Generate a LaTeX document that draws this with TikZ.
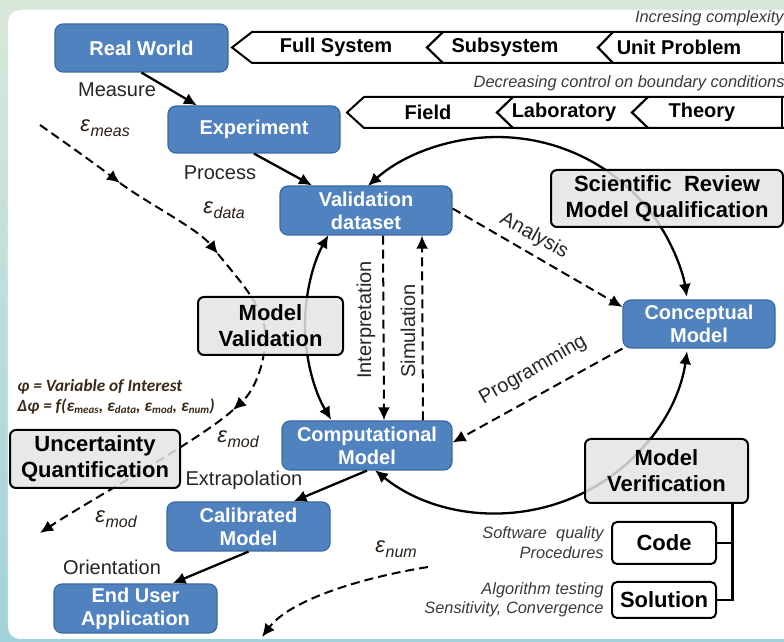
\documentclass[tikz,border=0pt]{standalone}
\usepackage{fontspec}
\setmainfont{Liberation Sans}
\newfontfamily\calfont{Carlito}
\usetikzlibrary{arrows.meta}
\definecolor{bgTop}{HTML}{D8E8DA}
\definecolor{bgBot}{HTML}{A2D2DB}
\definecolor{blueFill}{HTML}{5082C0}
\definecolor{blueBorder}{HTML}{3B6A9E}
\definecolor{grayFill}{HTML}{E4E4E4}
\definecolor{txtGray}{HTML}{3A3A3A}
\definecolor{epsCol}{HTML}{2A2018}
\definecolor{phiCol}{HTML}{3A2A18}
\newcommand{\epsl}[1]{{\fontsize{11}{12}\selectfont\itshape ε\kern0.3pt\raisebox{-2.5pt}{\fontsize{8}{9}\selectfont #1}}}
\newcommand{\epss}[1]{ε\raisebox{-1pt}{\fontsize{5.5}{6}\selectfont #1}}
\begin{document}
\begin{tikzpicture}[x=0.5pt,y=-0.5pt,
  bluebox/.style={draw=blueBorder, line width=0.6pt, fill=blueFill, rounded corners=4pt,
    text=white, font=\bfseries\fontsize{10}{11.5}\selectfont, align=center, inner sep=0pt},
  graybox/.style={draw=black, line width=1pt, fill=grayFill, fill opacity=0.85, text opacity=1,
    rounded corners=3pt, font=\bfseries\fontsize{11}{13}\selectfont, align=center, inner sep=0pt},
  whitebox/.style={draw=black, line width=1pt, fill=white, rounded corners=2.5pt,
    font=\bfseries\fontsize{11}{13}\selectfont, align=center, inner sep=0pt},
  banner/.style={draw=black, line width=1pt, fill=white, line join=miter},
  bantext/.style={font=\bfseries\fontsize{10}{12}\selectfont, inner sep=0pt},
  lbl/.style={font=\fontsize{10}{12}\selectfont, text=black!85, inner sep=0pt},
  small/.style={font=\itshape\fontsize{8.2}{10}\selectfont, text=txtGray, inner sep=0pt},
  epsl/.style={text=epsCol, inner sep=0pt},
  phistyle/.style={anchor=west, font=\calfont\bfseries\itshape\fontsize{8.6}{10}\selectfont, text=phiCol, inner sep=0pt},
  solidarr/.style={line width=1.15pt, -{Latex[length=6.5pt,width=6pt]}},
  dasharr/.style={line width=1pt, dash pattern=on 4.5pt off 2.5pt, -{Latex[length=6.5pt,width=6pt]}},
  solidln/.style={line width=1.1pt}
]
\useasboundingbox (0,0) rectangle (784,642);
\clip (0,0) rectangle (784,642);
% background
\shade[top color=bgTop, bottom color=bgBot] (0,0) rectangle (784,642);
\fill[white, rounded corners=6pt] (8,10) rectangle (820,639);

% banners
\draw[banner] (252,32) -- (790,32) -- (790,63) -- (252,63) -- (232,47.5) -- cycle;
\draw[banner] (782,32) -- (782,63);
\draw[solidln] (443,32) -- (427,47.5) -- (443,63);
\draw[solidln] (613,32) -- (598,47.5) -- (613,63);
\draw[banner] (364,97) -- (790,97) -- (790,128) -- (364,128) -- (347,112.5) -- cycle;
\draw[banner] (782,97) -- (782,128);
\draw[solidln] (513,97) -- (497,112.5) -- (513,128);
\draw[solidln] (648,97) -- (632,112.5) -- (648,128);
\node[bantext] (b1) at (336,47.5) {Full System};
\node[bantext] (b2) at (505,47.5) {Subsystem};
\node[bantext] (b3) at (679,47.5) {Unit Problem};
\node[bantext] (b4) at (428,112.5) {Field};
\node[bantext] (b5) at (564,112.5) {Laboratory};
\node[bantext] (b6) at (702,112.5) {Theory};
\node[small, anchor=east] (inc) at (784,18) {Incresing complexity};
\node[small, anchor=east] (dec) at (785,83) {Decreasing control on boundary conditions};

% ellipse arcs (centre 497,325)
\coordinate (C) at (497,325);
\coordinate (s1) at (661.6,228.2);
\coordinate (s2) at (587.1,491.0);
\coordinate (s3) at (305,325);
\draw[solidarr] (s1) arc[start angle=-31, end angle=-132.3, x radius=192, y radius=188];
\draw[solidarr] (s1) arc[start angle=-31, end angle=-8.6, x radius=192, y radius=188];
\draw[solidarr] (s2) arc[start angle=62, end angle=8, x radius=192, y radius=188];
\draw[solidarr] (s2) arc[start angle=62, end angle=129.5, x radius=192, y radius=188];
\draw[solidarr] (s3) arc[start angle=180, end angle=208.6, x radius=192, y radius=188];
\draw[solidarr] (s3) arc[start angle=180, end angle=149.7, x radius=192, y radius=188];
\draw[solidln] (s1) arc[start angle=-31, end angle=-45, x radius=192, y radius=188];
\draw[solidln] (s2) arc[start angle=62, end angle=37, x radius=192, y radius=188];

% error curves
\coordinate (m1) at (40,125);
\coordinate (m2) at (120,183);
\coordinate (m3) at (218,254);
\coordinate (m4) at (265,330);
\coordinate (m5) at (233,410);
\coordinate (m6) at (40,533);
\draw[dasharr] (m1) .. controls (67,144) and (94,163) .. (m2);
\draw[dasharr] (m2) .. controls (147,203) and (198,229) .. (m3);
\draw[dasharr] (m3) .. controls (240,281) and (262,305) .. (m4) .. controls (267,360) and (255,390) .. (m5);
\draw[dasharr] (m5) .. controls (200,440) and (90,500) .. (m6);
\coordinate (n1) at (428,567);
\coordinate (n2) at (262,637);
\draw[dasharr] (n1) .. controls (360,578) and (290,600) .. (n2);

% boxes
\node[bluebox, minimum width=86.5pt, minimum height=24pt] (rw) at (141.5,48) {Real World};
\node[bluebox, minimum width=86pt, minimum height=23.5pt] (ex) at (254,129.5) {Experiment};
\node[bluebox, minimum width=86pt, minimum height=24.5pt] (vd) at (366,210.5) {Validation\\dataset};
\node[bluebox, minimum width=85pt, minimum height=24.5pt] (cc) at (367,445.5) {Computational\\Model};
\node[bluebox, minimum width=76pt, minimum height=24pt] (cm) at (699,324) {Conceptual\\Model};
\node[bluebox, minimum width=81.5pt, minimum height=24.5pt] (cal) at (248.5,526.5) {Calibrated\\Model};
\node[bluebox, minimum width=81.5pt, minimum height=24.5pt] (eu) at (135.5,608.5) {End User\\Application};
\node[graybox, minimum width=116pt, minimum height=28.5pt] (sr) at (667,198.5) {Scientific\ \ Review\\Model Qualification};
\node[graybox, minimum width=72.5pt, minimum height=29pt] (mval) at (270.5,326) {Model\\Validation};
\node[graybox, minimum width=85pt, minimum height=29pt] (uq) at (95,459) {Uncertainty\\Quantification};
\node[graybox, minimum width=81.5pt, minimum height=32pt] (mver) at (666.5,471) {Model\\Verification};
\node[whitebox, minimum width=52pt, minimum height=21pt] (code) at (664,543) {Code};
\node[whitebox, minimum width=52pt, minimum height=18pt] (sol) at (664,600) {Solution};

% verification bracket
\draw[solidln] ([xshift=33pt]mver.south) |- (sol.east);
\draw[solidln] (code.east) -- ++(16,0);

% solid arrows
\draw[solidarr] (rw.south) -- ([xshift=-28.5pt]ex.north);
\draw[solidarr] (ex.south) -- ([xshift=-27pt]vd.north);
\draw[solidarr] (cc.south) -- ([xshift=22.5pt]cal.north);
\draw[solidarr] (cal.south) -- ([xshift=18.5pt]eu.north);

% dashed arrows
\draw[dasharr] ([yshift=1pt]vd.east) -- ([yshift=8.5pt]cm.west);
\draw[dasharr] (cm.south west) -- ([yshift=1.5pt]cc.east);
\draw[dasharr] ([xshift=8.5pt]vd.south) -- ([xshift=8.5pt]cc.north);
\draw[dasharr] ([xshift=28pt]cc.north) -- ([xshift=28pt]vd.south);

% labels
\node[lbl] (lmeas) at (117,90) {Measure};
\node[lbl] (lproc) at (220,173) {Process};
\node[lbl] (lextr) at (244,480) {Extrapolation};
\node[lbl] (lori) at (112,567) {Orientation};
\node[lbl, rotate=-29] (lana) at (534,236) {Analysis};
\node[lbl, rotate=30] (lprog) at (533,370) {Programming};
\node[lbl, rotate=90] (lint) at (366,320) {Interpretation};
\node[lbl, rotate=90] (lsim) at (408,331) {Simulation};
\node[epsl, anchor=west] (e1) at (80,128) {\epsl{meas}};
\node[epsl, anchor=west] (e2) at (203,210) {\epsl{data}};
\node[epsl, anchor=west] (e3) at (217,439) {\epsl{mod}};
\node[epsl, anchor=west] (e4) at (95,519) {\epsl{mod}};
\node[epsl, anchor=west] (e5) at (375,549) {\epsl{num}};
\node[small, anchor=east] (sq1) at (604,534) {Software\ \ quality};
\node[small, anchor=east] (sq2) at (604,553) {Procedures};
\node[small, anchor=east] (at1) at (604,590) {Algorithm testing};
\node[small, anchor=east] (at2) at (604,609) {Sensitivity, Convergence};
\node[phistyle] (phi1) at (17,387) {φ = Variable of Interest};
\node[phistyle] (phi2) at (17,406) {Δφ = f(\epss{meas}, \epss{data}, \epss{mod}, \epss{num})};
\end{tikzpicture}
\end{document}
